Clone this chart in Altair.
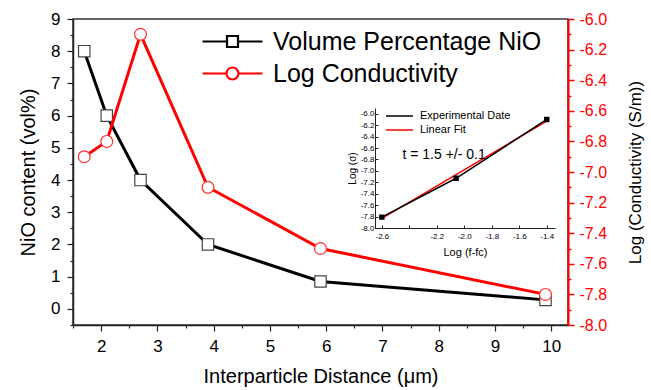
import altair as alt
import pandas as pd

# ---------------- data ----------------
distance = [1.7, 2.1, 2.7, 3.9, 5.9, 9.9]
nio_vol = [8.0, 6.0, 4.0, 2.0, 0.85, 0.28]
log_cond = [-6.9, -6.8, -6.1, -7.1, -7.5, -7.8]
series_names = ["Volume Percentage NiO", "Log Conductivity"]

inset_logf = [-2.6, -2.06, -1.4]
inset_logsigma = [-7.81, -7.13, -6.10]
fit_logf = [-2.6, -1.4]
fit_logsigma = [-7.83, -6.13]
inset_names = ["Experimental Date", "Linear Fit"]
note_text = ["t = 1.5 +/- 0.1"]
note_x = [-2.45]
note_y = [-6.72]

x_ticks = [1.5 + 0.5 * i for i in range(18)]
left_ticks = [-0.5 + 0.5 * i for i in range(20)]
right_ticks = [round(-8.0 + 0.1 * i, 1) for i in range(21)]
inset_x_ticks = [-2.6, -2.4, -2.2, -2.0, -1.8, -1.6, -1.4]
inset_y_ticks = [round(-8.0 + 0.2 * i, 1) for i in range(11)]

FONT = "Liberation Sans"

df_vol = pd.DataFrame({"distance": distance, "value": nio_vol, "series": series_names[0]})
df_cond = pd.DataFrame({"distance": distance, "value": log_cond, "series": series_names[1]})
df_exp = pd.DataFrame({"lx": inset_logf, "ly": inset_logsigma, "name": inset_names[0]})
df_fit = pd.DataFrame({"lx": fit_logf, "ly": fit_logsigma, "name": inset_names[1]})
df_note = pd.DataFrame({"lx": note_x, "ly": note_y, "txt": note_text})

# ---------------- main encodings ----------------
int_test = "datum.value % 1 === 0"
x_enc = alt.X(
    "distance:Q",
    scale=alt.Scale(domain=[1.5, 10.3], nice=False, zero=False),
    axis=alt.Axis(
        orient="bottom", title="Interparticle Distance (μm)", values=x_ticks,
        labelExpr=f"{int_test} ? format(datum.value, 'd') : ''",
        tickSize={"condition": {"test": int_test, "value": 6}, "value": 3},
        labelFontSize=17, titleFontSize=20, labelPadding=7, titlePadding=12,
        domainColor="#222", domainWidth=1.5, tickColor="#222", tickWidth=1.2,
        labelColor="black", titleColor="black",
    ),
)
y_left = alt.Y(
    "value:Q",
    scale=alt.Scale(domain=[-0.5, 9], nice=False, zero=False),
    axis=alt.Axis(
        orient="left", title="NiO content (vol%)", values=left_ticks,
        labelExpr=f"{int_test} ? format(datum.value, 'd') : ''",
        tickSize={"condition": {"test": int_test, "value": 6}, "value": 3},
        labelFontSize=17, titleFontSize=20, labelPadding=7, titlePadding=12,
        domainColor="#222", domainWidth=1.5, tickColor="#222", tickWidth=1.2,
        labelColor="black", titleColor="black",
    ),
)
major_r = "abs(datum.value*5 - round(datum.value*5)) < 0.001"
y_right = alt.Y(
    "value:Q",
    scale=alt.Scale(domain=[-8, -6], nice=False, zero=False),
    axis=alt.Axis(
        orient="right", title="Log (Conductivity (S/m))", titleAngle=270, values=right_ticks,
        labelExpr=f"{major_r} ? replace(format(datum.value, '.1f'), '\u2212', '-') : ''",
        tickSize={"condition": {"test": major_r, "value": 6}, "value": 3},
        labelFontSize=16, titleFontSize=17, labelPadding=5, titlePadding=38,
        domainColor="red", domainWidth=2, tickColor="red", tickWidth=1.5,
        labelColor="red", titleColor="black",
    ),
)

sq_path = "M -5 0 H -2.55 M -1.45 0 H 1 M -2.55 -0.55 H -1.45 V 0.55 H -2.55 Z"
ci_path = ("M -5 0 H -2.6 M -1.4 0 H 1 M -2.6 0 A 0.6 0.6 0 1 0 -1.4 0 "
           "A 0.6 0.6 0 1 0 -2.6 0 Z")
main_legend = alt.Legend(
    orient="none", legendX=167, legendY=10, title=None,
    labelFont=FONT, labelFontSize=25, labelColor="black", labelLimit=500,
    symbolSize=400, symbolStrokeWidth=2.2, rowPadding=6, labelOffset=8, padding=0,
)
color_enc = alt.Color(
    "series:N", scale=alt.Scale(domain=series_names, range=["black", "red"]), legend=main_legend,
)
shape_enc = alt.Shape(
    "series:N", scale=alt.Scale(domain=series_names, range=[sq_path, ci_path]), legend=main_legend,
)

black_line = alt.Chart(df_vol).mark_line(strokeWidth=3, color="black").encode(x=x_enc, y=y_left)
black_pts = alt.Chart(df_vol).mark_point(
    shape="square", size=130, filled=True, fill="white", stroke="#444", strokeWidth=1.2, opacity=1
).encode(x=x_enc, y=y_left)
# legend carrier: conductivity rows on the vol% scale fall outside the view and are clipped
legend_layer = alt.Chart(df_cond).mark_point(
    filled=False, size=400, strokeWidth=2.2, opacity=1, clip=True
).encode(x=x_enc, y=y_left, color=color_enc, shape=shape_enc)
red_line = alt.Chart(df_cond).mark_line(strokeWidth=3, color="red").encode(x=x_enc, y=y_right)
red_pts = alt.Chart(df_cond).mark_point(
    shape="circle", size=140, filled=True, fill="white", stroke="#ff3030", strokeWidth=1.2, opacity=1
).encode(x=x_enc, y=y_right)

black = alt.layer(black_line, black_pts, legend_layer)
red = alt.layer(red_line, red_pts)
main = alt.layer(black, red).resolve_scale(y="independent")

# ---------------- inset ----------------
ix = alt.X(
    "lx:Q",
    scale=alt.Scale(domain=[-2.65, -1.34], range=[302, 482], nice=False, zero=False),
    axis=alt.Axis(
        orient="bottom", offset=-97, values=inset_x_ticks,
        labelExpr="abs(datum.value + 2.4) < 0.01 ? '' : replace(format(datum.value, '.1f'), '\u2212', '-')",
        tickSize={"expr": "-3"}, labelFontSize=8, labelPadding=7,
        title="Log (f-fc)", titleFontSize=11, titlePadding=6,
        domainColor="#222", tickColor="#222", labelColor="black", titleColor="black",
    ),
)
iy = alt.Y(
    "ly:Q",
    scale=alt.Scale(domain=[-8.0, -5.9], range=[209, 89], nice=False, zero=False),
    axis=alt.Axis(
        orient="left", offset=-302, values=inset_y_ticks,
        labelExpr="replace(format(datum.value, '.1f'), '\u2212', '-')",
        tickSize={"expr": "-3"}, labelFontSize=8, labelPadding=4,
        title="Log (σ)", titleFontSize=10, titlePadding=3,
        domainColor="#222", tickColor="#222", labelColor="black", titleColor="black",
    ),
)
inset_legend = alt.Legend(
    orient="none", legendX=329, legendY=91, title=None,
    labelFont=FONT, labelFontSize=11, labelColor="black", labelLimit=300,
    symbolType="M -4.4 0 H 1", symbolSize=100, symbolStrokeWidth=1.5,
    rowPadding=3, labelOffset=6, padding=0,
)
stroke_enc = alt.Stroke(
    "name:N", scale=alt.Scale(domain=inset_names, range=["black", "red"]), legend=inset_legend,
)
exp_line = alt.Chart(df_exp).mark_line(strokeWidth=1.5).encode(x=ix, y=iy, stroke=stroke_enc)
exp_pts = alt.Chart(df_exp).mark_point(
    shape="square", size=12, filled=True, fill="black", stroke="black", opacity=1
).encode(x=ix, y=iy)
fit_line = alt.Chart(df_fit).mark_line(strokeWidth=1.5).encode(x=ix, y=iy, stroke=stroke_enc)
note = alt.Chart(df_note).mark_text(
    align="left", baseline="middle", fontSize=14, font=FONT, color="black"
).encode(x=ix, y=iy, text="txt:N")
inset = alt.layer(fit_line, exp_line, exp_pts, note)

chart = (
    alt.layer(main, inset)
    .resolve_scale(x="independent", y="independent")
    .properties(
        width=495, height=306,
        padding={"left": 73, "top": 19, "right": 83, "bottom": 65},
        autosize=alt.AutoSizeParams(type="none"),
        background="white",
    )
    .configure_axis(labelFont=FONT, titleFont=FONT, titleFontWeight="normal", grid=False)
    .configure_view(stroke="#333", strokeWidth=1.5)
)

chart.save("out.html", embed_options={"renderer": "svg", "actions": False})
